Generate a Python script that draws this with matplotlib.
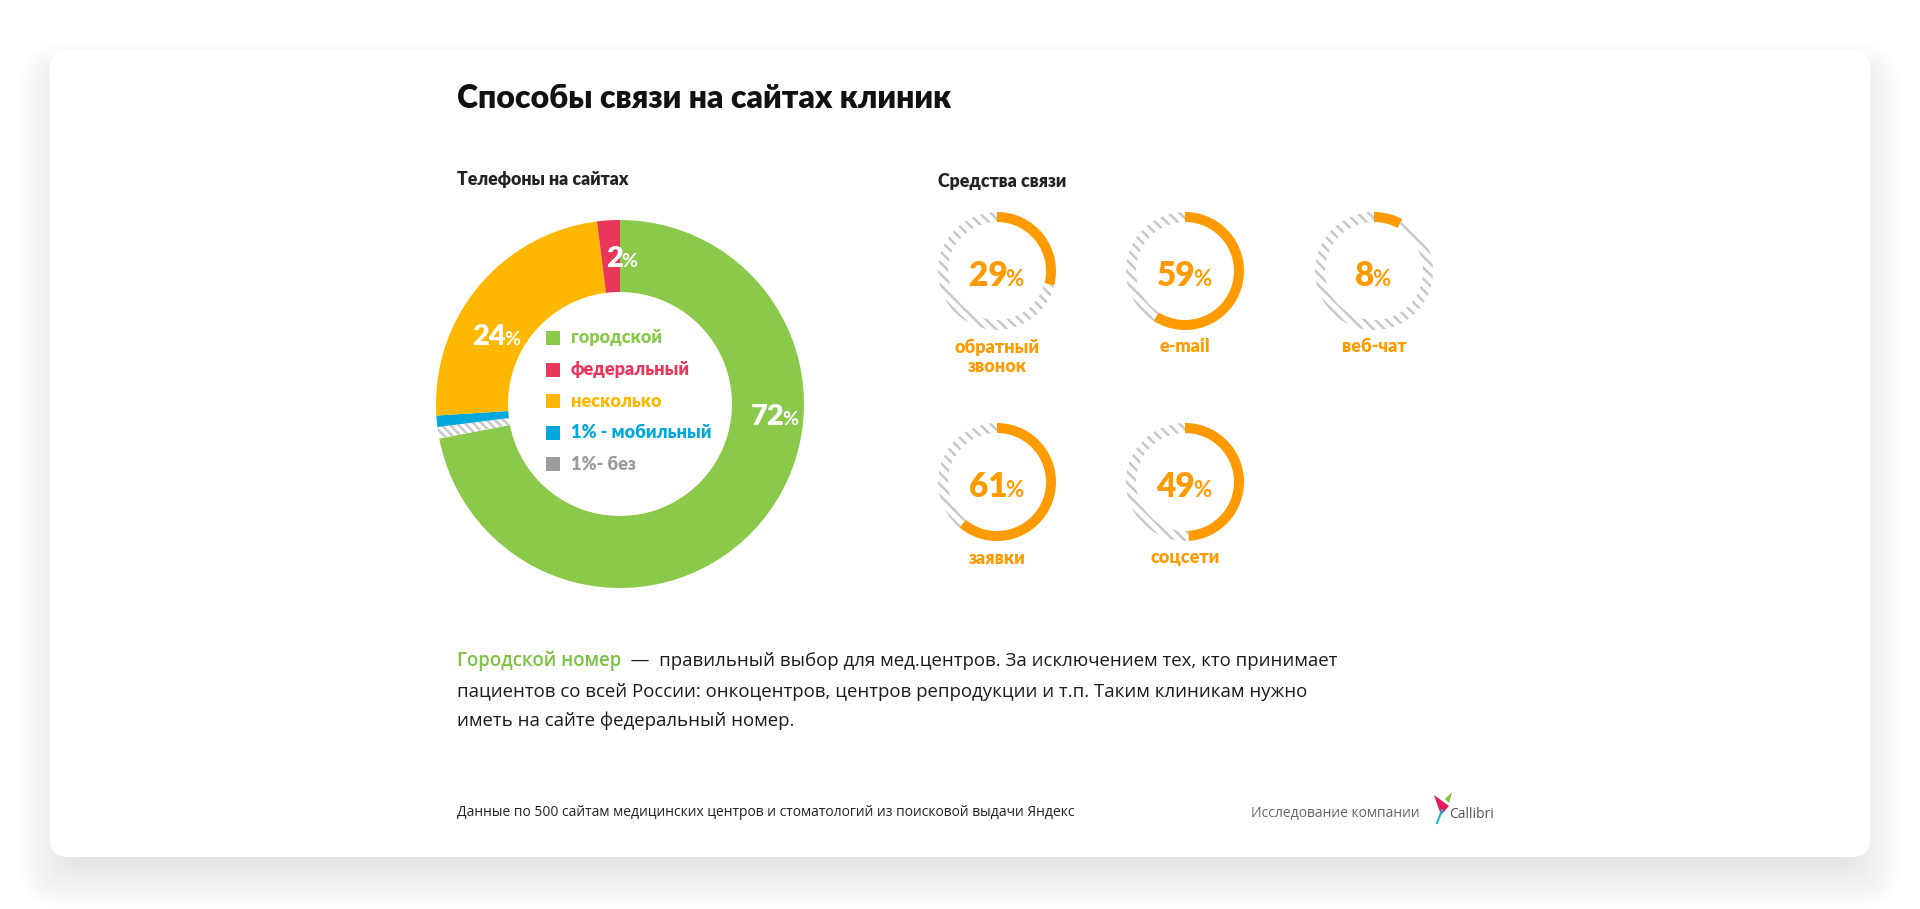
import math
import matplotlib
matplotlib.use("Agg")
import matplotlib.pyplot as plt
from matplotlib.patches import FancyBboxPatch, Polygon, Rectangle

W, H = 1920, 909
HEAD = "Lato"
BODY = "Open Sans"

# phone numbers on clinic sites, % (legend order)
phone_labels = ["городской", "федеральный", "несколько", "1% - мобильный", "1%- без"]
phone_values = [72, 2, 24, 1, 1]
phone_colors = ["#8BC94A", "#E8375A", "#FFB700", "#00A8DE", "#9B9B9B"]
phone_hatched = [False, False, False, False, True]
# clockwise order around the donut, from 12 o'clock
phone_order = [0, 4, 3, 2, 1]
# slices that carry a big % label and the angle of that label
phone_shown = [0, 1, 2]
label_angles = [-4, 92, 152]

# contact channels on clinic sites, %
channel_labels = ["обратный\nзвонок", "e-mail", "веб-чат", "заявки", "соцсети"]
channel_values = [29, 59, 8, 61, 49]
ch_x = [997, 1185, 1374, 997, 1185]
ch_y = [271, 271, 271, 482, 482]

ORANGE = "#FF9A00"
plt.rcParams["hatch.color"] = "#c8c8c8"
plt.rcParams["hatch.linewidth"] = 1.8

fig = plt.figure(figsize=(19.2, 9.09), dpi=100)
fig.patch.set_facecolor("white")

# background: card with soft shadow
bg = fig.add_axes([0, 0, 1, 1])
bg.set_xlim(0, W)
bg.set_ylim(H, 0)
bg.axis("off")
for i in range(32):
    s = -30 + i * 2.0
    bg.add_patch(FancyBboxPatch((50 - s, 50 + 22 - s), 1820 + 2 * s, 807 + 2 * s,
                                boxstyle="round,pad=0,rounding_size=%d" % (18 + max(s, 0)),
                                fc="#000000", ec="none", alpha=0.0048))
bg.add_patch(FancyBboxPatch((50, 50), 1820, 807, boxstyle="round,pad=0,rounding_size=18",
                            fc="white", ec="none"))


def ring_axes(cx, cy, r):
    return fig.add_axes([(cx - r) / W, 1 - (cy + r) / H, 2 * r / W, 2 * r / H])


# donut of phone types
DCX, DCY, DR = 620, 404, 184
dax = ring_axes(DCX, DCY, DR)
wedges, _ = dax.pie([phone_values[i] for i in phone_order],
                    colors=[phone_colors[i] if not phone_hatched[i] else "white" for i in phone_order],
                    startangle=90, counterclock=False, radius=1,
                    wedgeprops=dict(width=(184 - 112) / 184, linewidth=0))
for w, i in zip(wedges, phone_order):
    if phone_hatched[i]:
        w.set_hatch("\\\\\\\\")
dax.set_xlim(-1, 1)
dax.set_ylim(-1, 1)

# small progress rings
for cx, cy, v in zip(ch_x, ch_y, channel_values):
    rax = ring_axes(cx, cy, 59)
    ws, _ = rax.pie([v, 100 - v], colors=[ORANGE, "white"], startangle=90, counterclock=False,
                    radius=1, wedgeprops=dict(width=10 / 59, linewidth=0))
    ws[1].set_hatch("\\\\\\")
    rax.set_xlim(-1, 1)
    rax.set_ylim(-1, 1)

# text layer
ax = fig.add_axes([0, 0, 1, 1])
ax.set_xlim(0, W)
ax.set_ylim(H, 0)
ax.axis("off")
ax.patch.set_visible(False)
rend = fig.canvas.get_renderer()


def px(pt):
    return pt * 100 / 72


def number_pct(x, y, num, size, psize, color, digits_centered=False):
    t1 = ax.text(0, 0, str(num), fontsize=size, fontweight="heavy", color=color,
                 family=HEAD, ha="left", va="baseline")
    t2 = ax.text(0, 0, "%", fontsize=psize, fontweight="bold", color=color,
                 family=HEAD, ha="left", va="baseline")
    w1 = t1.get_window_extent(rend).width
    w2 = t2.get_window_extent(rend).width
    base = y + 0.36 * px(size)
    x0 = x - w1 / 2 if digits_centered else x - (w1 + w2) / 2
    t1.set_position((x0, base))
    t2.set_position((x0 + w1 - 2, base))


ax.text(457, 99, "Способы связи на сайтах клиник", fontsize=23, fontweight="heavy",
        family=HEAD, color="#111111", va="center", ha="left")
ax.text(457, 179, "Телефоны на сайтах", fontsize=12.8, fontweight="heavy",
        family=HEAD, color="#222222", va="center", ha="left")
ax.text(938, 182, "Средства связи", fontsize=12.8, fontweight="heavy",
        family=HEAD, color="#222222", va="center", ha="left")

for i, ang in zip(phone_shown, label_angles):
    a = math.radians(ang)
    x = DCX + 148 * math.cos(a)
    y = DCY - 148 * math.sin(a)
    number_pct(x, y, phone_values[i], 21, 14, "white", digits_centered=True)

# legend inside donut
for k, (lab, col) in enumerate(zip(phone_labels, phone_colors)):
    y = 338 + 31.6 * k
    ax.add_patch(Rectangle((546, y - 7), 14, 14, fc=col, ec="none"))
    ax.text(571, y, lab, fontsize=13, fontweight="heavy", family=HEAD, color=col,
            va="center", ha="left")

for cx, cy, v, lab in zip(ch_x, ch_y, channel_values, channel_labels):
    number_pct(cx, cy + 3, v, 24, 16, ORANGE)
    for k, line in enumerate(lab.split("\n")):
        ax.text(cx, cy + 76 + 20 * k, line, fontsize=13, fontweight="heavy", family=HEAD,
                color=ORANGE, ha="center", va="center")

# paragraph
t = ax.text(457, 661, "Городской номер", fontsize=13.4, fontweight="semibold", family=BODY,
            color="#7CC242", va="center", ha="left")
wg = t.get_window_extent(rend).width
ax.text(457 + wg, 661, "  —  правильный выбор для мед.центров. За исключением тех, кто принимает",
        fontsize=13.4, family=BODY, color="#1a1a1a", va="center", ha="left")
ax.text(457, 692, "пациентов со всей России: онкоцентров, центров репродукции и т.п. Таким клиникам нужно",
        fontsize=13.4, family=BODY, color="#1a1a1a", va="center", ha="left")
ax.text(457, 721, "иметь на сайте федеральный номер.",
        fontsize=13.4, family=BODY, color="#1a1a1a", va="center", ha="left")

# footer
ax.text(457, 813, "Данные по 500 сайтам медицинских центров и стоматологий из поисковой выдачи Яндекс",
        fontsize=10, family=BODY, color="#222222", va="center", ha="left")
ax.text(1420, 813, "Исследование компании", fontsize=10, family=BODY, color="#666666",
        va="center", ha="right")
ax.text(1449, 814, "Callibri", fontsize=10, family=BODY, color="#555555", va="center", ha="left")
# logo bird
ax.add_patch(Polygon([(1434, 795), (1449, 806), (1441, 815)], closed=True, fc="#E5195E", ec="none"))
ax.add_patch(Polygon([(1445, 799), (1452, 792), (1449, 803)], closed=True, fc="#7DC242", ec="none"))
ax.plot([1442, 1437], [810, 823], color="#1FB5D6", lw=1.5)

fig.savefig("out.png", dpi=100)
